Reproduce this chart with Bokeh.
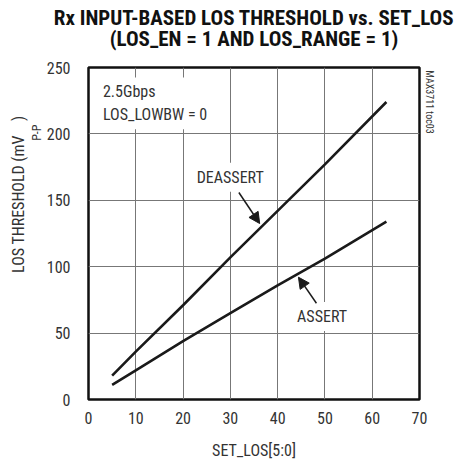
from bokeh.plotting import figure
from bokeh.models import Range1d, FixedTicker, Label, Arrow, NormalHead, Title, LinearAxis
from bokeh.embed import file_html
from bokeh.resources import INLINE

# ---- data ----
set_los = [5, 10, 20, 30, 40, 50, 63]
deassert = [18, 36, 71, 107, 142, 177, 224]
assert_ = [11, 22, 44, 65, 86, 106, 134]
x_ticks = [0, 10, 20, 30, 40, 50, 60, 70]
y_ticks = [0, 50, 100, 150, 200, 250]

FONT = "Roboto Condensed"
TXT = "#333333"
NB = "\u00a0"

p = figure(width=461, height=454, frame_width=331, frame_height=332,
           min_border_left=88, min_border_right=42, min_border_top=67, min_border_bottom=55,
           x_range=Range1d(0, 70), y_range=Range1d(0, 250),
           output_backend="svg", toolbar_location=None,
           title="Rx INPUT-BASED LOS THRESHOLD vs. SET_LOS")

p.title.align = "center"
p.title.text_font = FONT
p.title.text_font_style = "bold"
p.title.text_font_size = "21px"
p.title.text_color = "#111111"
p.title.standoff = -43

t2 = Title(text="(LOS_EN = 1 AND LOS_RANGE = 1)", align="center", text_font=FONT,
           text_font_style="bold", text_font_size="21px", text_color="#111111", standoff=33)
p.add_layout(t2, "above")

p.outline_line_color = "#111111"
p.outline_line_width = 2.5

for ax in (p.xaxis[0], p.yaxis[0]):
    ax.axis_line_color = None
    ax.major_tick_line_color = None
    ax.minor_tick_line_color = None
    ax.major_tick_in = 0
    ax.major_tick_out = 0
    ax.major_label_text_font = FONT
    ax.major_label_text_font_size = "16px"
    ax.major_label_text_color = TXT

p.xaxis.ticker = FixedTicker(ticks=x_ticks)
p.yaxis.ticker = FixedTicker(ticks=y_ticks)
p.xaxis.major_label_standoff = 12
p.yaxis.major_label_standoff = 18
p.xaxis.axis_label = "SET_LOS[5:0]"
p.xaxis.axis_label_text_font = FONT
p.xaxis.axis_label_text_font_size = "16px"
p.xaxis.axis_label_text_font_style = "normal"
p.xaxis.axis_label_text_color = TXT
p.xaxis.axis_label_standoff = 14

p.xgrid.ticker = FixedTicker(ticks=x_ticks)
p.ygrid.ticker = FixedTicker(ticks=y_ticks)
for g in (p.xgrid[0], p.ygrid[0]):
    g.grid_line_color = "#777777"
    g.grid_line_width = 1

p.line(set_los, deassert, line_color="#1a1a1a", line_width=2.6)
p.line(set_los, assert_, line_color="#1a1a1a", line_width=2.6)

# y axis label with subscript, as side titles
sub = Title(text="P-P", align="right", offset=57, standoff=0, text_font=FONT,
            text_font_style="normal", text_font_size="12px", text_color=TXT)
p.add_layout(sub, "left")
main = Title(text="LOS THRESHOLD (mV" + NB * 4 + ")", align="right", offset=48, standoff=0,
             text_font=FONT, text_font_style="normal", text_font_size="16px", text_color=TXT)
p.add_layout(main, "left")

# side code as a right axis label
code_axis = LinearAxis(ticker=FixedTicker(ticks=[224]), major_label_overrides={224: "MAX3711 toc03"},
                       major_label_orientation="vertical", axis_line_color=None,
                       major_tick_line_color=None, minor_tick_line_color=None,
                       major_tick_in=0, major_tick_out=0, major_label_standoff=4,
                       major_label_text_font=FONT, major_label_text_font_size="10px",
                       major_label_text_color=TXT)
p.add_layout(code_axis, "right")

# condition box
p.add_layout(Label(x=2.0, y=242.5, text="2.5Gbps\nLOS_LOWBW = 0",
                   text_align="left", text_baseline="top",
                   text_font=FONT, text_font_size="16px", text_color=TXT,
                   background_fill_color="white", padding=5))

# curve labels
p.add_layout(Label(x=29.98, y=167.4, text="DEASSERT", text_align="center", text_baseline="middle",
                   text_font=FONT, text_font_size="16px", text_color=TXT,
                   background_fill_color="white", padding=5))
p.add_layout(Label(x=49.4, y=62.5, text="ASSERT", text_align="center", text_baseline="middle",
                   text_font=FONT, text_font_size="16px", text_color=TXT,
                   background_fill_color="white", padding=5))

p.add_layout(Arrow(x_start=31.8, y_start=155.9, x_end=36.2, y_end=132.5,
                   line_color="#1a1a1a", line_width=1.5,
                   end=NormalHead(size=11, fill_color="#1a1a1a", line_color="#1a1a1a")))
p.add_layout(Arrow(x_start=48.2, y_start=72.5, x_end=44.4, y_end=92.1,
                   line_color="#1a1a1a", line_width=1.5,
                   end=NormalHead(size=11, fill_color="#1a1a1a", line_color="#1a1a1a")))

open("out.html", "w").write(file_html(p, INLINE))
